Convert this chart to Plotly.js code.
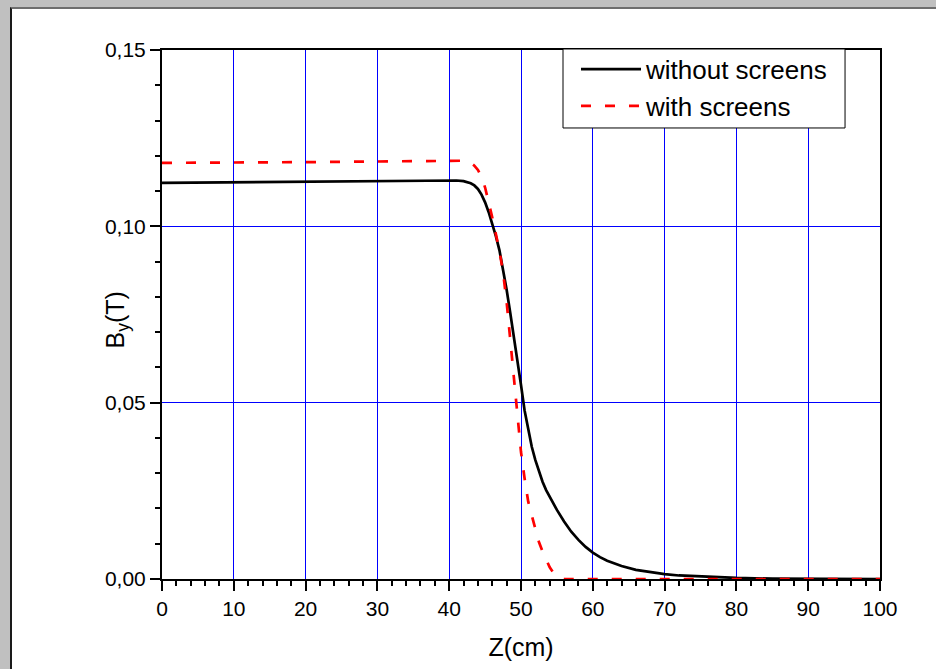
<!DOCTYPE html>
<html>
<head>
<meta charset="utf-8">
<script src="https://cdn.plot.ly/plotly-3.0.1.min.js"></script>
<style>
  html, body { margin:0; padding:0; width:936px; height:669px; overflow:hidden; background:#c0c0c0; }
  #panel { position:absolute; left:10px; top:7px; right:0; bottom:0; background:#ffffff;
           border-top:2px solid #6e6e6e; border-left:2px solid #1a1a1a; }
  #chart { position:absolute; left:0; top:0; width:936px; height:669px; }
</style>
</head>
<body>
<div id="panel"></div>
<div id="chart"></div>
<script>
// Series names
const seriesNames = ["without screens", "with screens"];

// Z positions (cm) and By (T) — without screens
const zWithout = [0,5,10,15,20,25,30,35,38,40,41,42,43,43.5,44,44.5,45,45.5,46,46.5,47,47.5,48,48.5,49,49.5,50,50.5,51,51.5,52,52.5,53,53.5,54,55,56,57,58,59,60,61,62,63,64,66,68,70,72,75,80,85,90,95,100];
const bWithout = [0.1123,0.1124,0.1125,0.1125,0.1126,0.1127,0.1128,0.1129,0.1130,0.1130,0.1130,0.1128,0.1122,0.1116,0.1106,0.1090,0.1068,0.1040,0.1008,0.0972,0.0932,0.0880,0.0820,0.0755,0.0690,0.0622,0.0550,0.0478,0.0422,0.0375,0.0337,0.0304,0.0276,0.0252,0.0232,0.0196,0.0163,0.0134,0.0111,0.0091,0.0075,0.0062,0.0052,0.0044,0.0037,0.0026,0.0019,0.0014,0.0010,0.0007,0.0003,0.0001,0.00005,0.00002,0];

// Z positions (cm) and By (T) — with screens
const zWith = [0,5,10,15,20,25,30,35,38,40,41,42,43,43.5,44,44.5,45,45.5,46,46.5,47,47.5,48,48.5,49,49.5,50,50.5,51,51.5,52,52.5,53,53.5,54,54.5,55,55.5,56,60,70,80,90,100];
const bWith = [0.1180,0.1180,0.1181,0.1182,0.1182,0.1183,0.1184,0.1185,0.1186,0.1187,0.1187,0.1186,0.1180,0.1172,0.1160,0.1140,0.1110,0.1070,0.1025,0.0978,0.0930,0.0870,0.0785,0.0680,0.0575,0.0465,0.0360,0.0285,0.0220,0.0180,0.0140,0.0105,0.0078,0.0055,0.0033,0.0018,0.0007,0.0002,0,0,0,0,0,0];

// Axis ticks and titles
const xTicks = [0,10,20,30,40,50,60,70,80,90,100];
const yTicks = [0,0.05,0.10,0.15];
const xTitle = "Z(cm)";
const yTitle = "B<sub>y</sub>(T)";

const font = "'Liberation Sans', Arial, sans-serif";

const traces = [
  { x: zWithout, y: bWithout, name: seriesNames[0], type: "scatter", mode: "lines",
    line: { color: "#000000", width: 2.7 } },
  { x: zWith, y: bWith, name: seriesNames[1], type: "scatter", mode: "lines",
    line: { color: "#ff0000", width: 2.7, dash: "10px,14px" } }
];

const axisCommon = {
  showline: true, linecolor: "#000000", linewidth: 2, mirror: true,
  ticks: "outside", ticklen: 10, tickwidth: 2, tickcolor: "#000000",
  showgrid: true, gridcolor: "#0000ff", gridwidth: 1, zeroline: false,
  tickfont: { family: font, size: 21, color: "#000000" }
};

const layout = {
  width: 936, height: 669,
  margin: { l: 162, r: 56, t: 50, b: 90 },
  paper_bgcolor: "rgba(0,0,0,0)",
  plot_bgcolor: "#ffffff",
  separators: ",.",
  showlegend: true,
  xaxis: Object.assign({}, axisCommon, {
    range: [0, 100], tickvals: xTicks, tickformat: "d",
    minor: { dtick: 2, ticks: "outside", ticklen: 5, tickwidth: 2, tickcolor: "#000000", showgrid: false },
    title: { text: xTitle, font: { family: font, size: 25, color: "#000000" }, standoff: 19 }
  }),
  yaxis: Object.assign({}, axisCommon, {
    range: [0, 0.15], tickvals: yTicks, tickformat: ".2f",
    minor: { dtick: 0.01, ticks: "outside", ticklen: 5, tickwidth: 2, tickcolor: "#000000", showgrid: false }
  }),
  annotations: [
    { text: yTitle, xref: "paper", yref: "paper", x: -0.063, y: 0.49,
      xanchor: "center", yanchor: "middle", textangle: -90, showarrow: false,
      font: { family: font, size: 25, color: "#000000" } }
  ],
  shapes: [
    { type: "rect", xref: "paper", yref: "paper", x0: 0.5585, x1: 0.9513, y0: 0.8526, y1: 1.0019,
      line: { color: "#000000", width: 1 }, fillcolor: "#ffffff", layer: "above" }
  ],
  legend: {
    x: 0.5766, y: 1.008, xanchor: "left", yanchor: "top",
    bgcolor: "rgba(0,0,0,0)", borderwidth: 0,
    font: { family: font, size: 26, color: "#000000" },
    itemwidth: 60
  }
};

Plotly.newPlot("chart", traces, layout, { displayModeBar: false, staticPlot: true });
</script>
</body>
</html>
